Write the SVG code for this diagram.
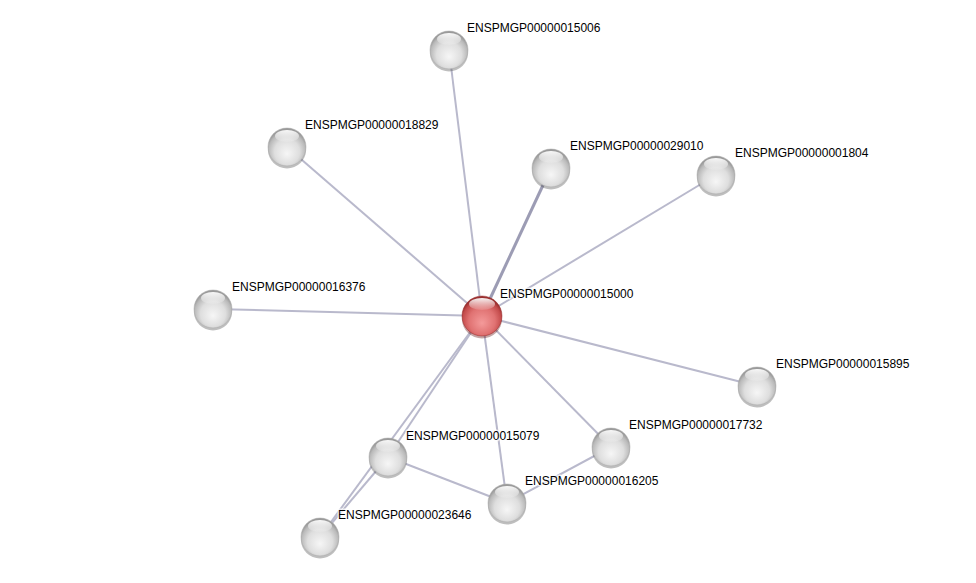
<svg xmlns="http://www.w3.org/2000/svg" width="976" height="583" viewBox="0 0 976 583">
<defs>
<radialGradient id="gGray" cx="50%" cy="60%" r="55%" fx="50%" fy="68%">
<stop offset="0" stop-color="#f6f6f6"/>
<stop offset="0.6" stop-color="#dedede"/>
<stop offset="0.88" stop-color="#bababa"/>
<stop offset="1" stop-color="#9a9a9a"/>
</radialGradient>
<radialGradient id="gRed" cx="50%" cy="60%" r="55%" fx="50%" fy="68%">
<stop offset="0" stop-color="#f49a9a"/>
<stop offset="0.6" stop-color="#e07272"/>
<stop offset="0.88" stop-color="#c44c4c"/>
<stop offset="1" stop-color="#9a3030"/>
</radialGradient>
<linearGradient id="gHi" x1="0" y1="0" x2="0" y2="1">
<stop offset="0" stop-color="#ffffff" stop-opacity="0.95"/>
<stop offset="1" stop-color="#ffffff" stop-opacity="0.1"/>
</linearGradient>
<g id="ball">
<ellipse cx="0" cy="3" rx="19" ry="18.5" fill="#444" opacity="0.35"/>
<circle r="19" fill="url(#gGray)" stroke="#a8a8a8" stroke-width="0.5"/>
<ellipse cx="0" cy="-11" rx="12" ry="6" fill="url(#gHi)"/>
</g>
<g id="redball">
<ellipse cx="0" cy="3" rx="20" ry="19.5" fill="#500" opacity="0.35"/>
<circle r="20" fill="url(#gRed)" stroke="#9a3030" stroke-width="0.5"/>
<ellipse cx="0" cy="-12" rx="13" ry="6" fill="url(#gHi)"/>
</g>
</defs>
<style>
.e{stroke:#b9b9cc;stroke-width:2;fill:none}
.e2{stroke:#9c9cb4;stroke-width:3;fill:none}
text{font-family:"Liberation Sans",Arial,sans-serif;font-size:12px;fill:#000;stroke:#ffffff;stroke-width:3;stroke-opacity:0.7;paint-order:stroke;stroke-linejoin:round}
</style>
<rect width="976" height="583" fill="#ffffff"/>
<g id="connectors">
<line class="e" x1="482" y1="316" x2="449" y2="50"/>
<line class="e" x1="482" y1="316" x2="287" y2="147"/>
<line class="e2" x1="482" y1="316" x2="551" y2="168"/>
<line class="e" x1="482" y1="316" x2="716" y2="175"/>
<line class="e" x1="482" y1="316" x2="213" y2="309"/>
<line class="e" x1="482" y1="316" x2="757" y2="386"/>
<line class="e" x1="482" y1="316" x2="611" y2="447"/>
<line class="e" x1="482" y1="316" x2="388" y2="457"/>
<line class="e" x1="482" y1="316" x2="320" y2="537"/>
<line class="e" x1="482" y1="316" x2="507" y2="503"/>
<line class="e" x1="388" y1="457" x2="507" y2="503"/>
<line class="e" x1="507" y1="503" x2="611" y2="447"/>
<line class="e" x1="388" y1="457" x2="320" y2="537"/>
</g>
<g id="n15006"><use href="#ball" x="449" y="50"/><text x="467" y="32">ENSPMGP00000015006</text></g>
<g id="n18829"><use href="#ball" x="287" y="147"/><text x="305" y="129">ENSPMGP00000018829</text></g>
<g id="n29010"><use href="#ball" x="551" y="168"/><text x="570" y="150">ENSPMGP00000029010</text></g>
<g id="n01804"><use href="#ball" x="716" y="175"/><text x="735" y="157">ENSPMGP00000001804</text></g>
<g id="n16376"><use href="#ball" x="213" y="309"/><text x="232" y="291">ENSPMGP00000016376</text></g>
<g id="n15895"><use href="#ball" x="757" y="386"/><text x="776" y="368">ENSPMGP00000015895</text></g>
<g id="n17732"><use href="#ball" x="611" y="447"/><text x="629" y="429">ENSPMGP00000017732</text></g>
<g id="n15079"><use href="#ball" x="388" y="457"/><text x="406" y="440">ENSPMGP00000015079</text></g>
<g id="n16205"><use href="#ball" x="507" y="503"/><text x="525" y="485">ENSPMGP00000016205</text></g>
<g id="n23646"><use href="#ball" x="320" y="537"/><text x="338" y="519">ENSPMGP00000023646</text></g>
<g id="n15000"><use href="#redball" x="482" y="316"/><text x="500" y="298">ENSPMGP00000015000</text></g>
</svg>
